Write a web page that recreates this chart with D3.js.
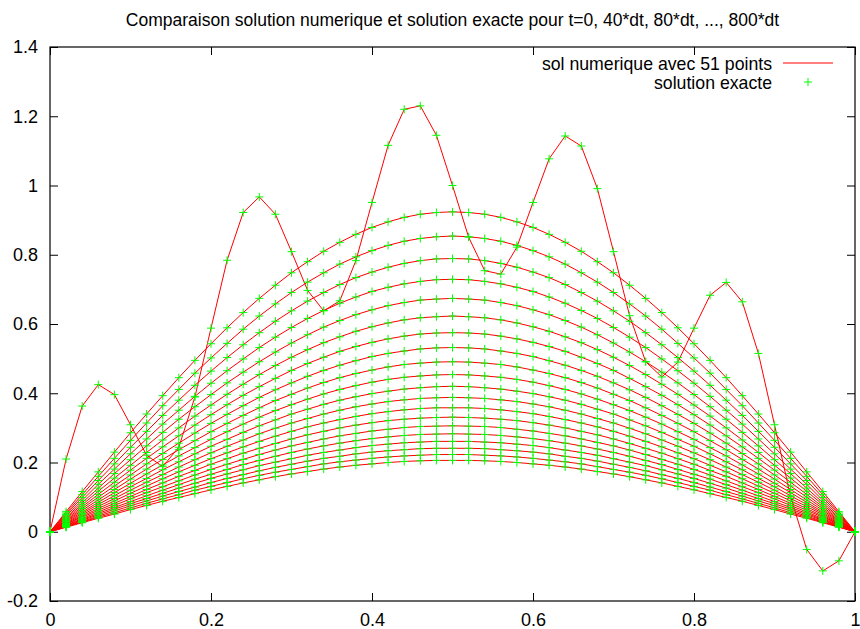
<!DOCTYPE html>
<html>
<head>
<meta charset="utf-8">
<script src="https://cdn.jsdelivr.net/npm/d3@7"></script>
<style>
  body { margin: 0; background: #fff; }
  text { font-family: "Liberation Sans", Arial, Helvetica, sans-serif; fill: #000; }
</style>
</head>
<body>
<svg id="chart" width="860" height="629"></svg>
<script>
// abscisses des 51 points
var xs = [0, 0.02, 0.04, 0.06, 0.08, 0.1, 0.12, 0.14, 0.16, 0.18, 0.2, 0.22, 0.24, 0.26, 0.28, 0.3, 0.32, 0.34, 0.36, 0.38,
          0.4, 0.42, 0.44, 0.46, 0.48, 0.5, 0.52, 0.54, 0.56, 0.58, 0.6, 0.62, 0.64, 0.66, 0.68, 0.7, 0.72, 0.74, 0.76, 0.78,
          0.8, 0.82, 0.84, 0.86, 0.88, 0.9, 0.92, 0.94, 0.96, 0.98, 1];

// one array per time step
var sol0 = [0, 0.210, 0.363, 0.425, 0.396, 0.309, 0.221, 0.188, 0.244, 0.389, 0.588, 0.784, 0.922, 0.967, 0.917, 0.809, 0.697, 0.638, 0.667, 0.783,
            0.951, 1.116, 1.220, 1.230, 1.145, 1.000, 0.851, 0.754, 0.744, 0.822, 0.951, 1.077, 1.143, 1.114, 0.991, 0.809, 0.624, 0.491, 0.447, 0.490,
            0.588, 0.683, 0.720, 0.664, 0.515, 0.309, 0.102, -0.051, -0.113, -0.084, 0];
var sol40 = [0, 0.058, 0.116, 0.173, 0.230, 0.286, 0.340, 0.393, 0.445, 0.495, 0.543, 0.589, 0.633, 0.674, 0.712, 0.748, 0.780, 0.810, 0.836, 0.859, 0.879, 0.895, 0.908, 0.917, 0.922,
             0.924, 0.922, 0.917, 0.908, 0.895, 0.879, 0.859, 0.836, 0.810, 0.780, 0.748, 0.712, 0.674, 0.633, 0.589, 0.543, 0.495, 0.445, 0.393, 0.340, 0.286, 0.230, 0.173, 0.116, 0.058, 0];
var sol80 = [0, 0.054, 0.107, 0.160, 0.212, 0.264, 0.314, 0.364, 0.411, 0.458, 0.502, 0.544, 0.585, 0.623, 0.658, 0.691, 0.721, 0.748, 0.773, 0.794, 0.812, 0.827, 0.839, 0.847, 0.852,
             0.854, 0.852, 0.847, 0.839, 0.827, 0.812, 0.794, 0.773, 0.748, 0.721, 0.691, 0.658, 0.623, 0.585, 0.544, 0.502, 0.458, 0.411, 0.364, 0.314, 0.264, 0.212, 0.160, 0.107, 0.054, 0];
var sol120 = [0, 0.050, 0.099, 0.148, 0.196, 0.244, 0.290, 0.336, 0.380, 0.423, 0.464, 0.503, 0.540, 0.575, 0.608, 0.638, 0.666, 0.691, 0.714, 0.734, 0.750, 0.764, 0.775, 0.783, 0.788,
              0.789, 0.788, 0.783, 0.775, 0.764, 0.750, 0.734, 0.714, 0.691, 0.666, 0.638, 0.608, 0.575, 0.540, 0.503, 0.464, 0.423, 0.380, 0.336, 0.290, 0.244, 0.196, 0.148, 0.099, 0.050, 0];
var sol160 = [0, 0.046, 0.091, 0.137, 0.181, 0.225, 0.268, 0.311, 0.351, 0.391, 0.429, 0.465, 0.499, 0.532, 0.562, 0.590, 0.616, 0.639, 0.660, 0.678, 0.694, 0.706, 0.716, 0.723, 0.728,
              0.729, 0.728, 0.723, 0.716, 0.706, 0.694, 0.678, 0.660, 0.639, 0.616, 0.590, 0.562, 0.532, 0.499, 0.465, 0.429, 0.391, 0.351, 0.311, 0.268, 0.225, 0.181, 0.137, 0.091, 0.046, 0];
var sol200 = [0, 0.042, 0.084, 0.126, 0.168, 0.208, 0.248, 0.287, 0.325, 0.361, 0.396, 0.430, 0.461, 0.491, 0.519, 0.545, 0.569, 0.591, 0.610, 0.627, 0.641, 0.653, 0.662, 0.669, 0.672,
              0.674, 0.672, 0.669, 0.662, 0.653, 0.641, 0.627, 0.610, 0.591, 0.569, 0.545, 0.519, 0.491, 0.461, 0.430, 0.396, 0.361, 0.325, 0.287, 0.248, 0.208, 0.168, 0.126, 0.084, 0.042, 0];
var sol240 = [0, 0.039, 0.078, 0.117, 0.155, 0.192, 0.229, 0.265, 0.300, 0.334, 0.366, 0.397, 0.426, 0.454, 0.480, 0.504, 0.526, 0.546, 0.563, 0.579, 0.592, 0.603, 0.612, 0.618, 0.621,
              0.623, 0.621, 0.618, 0.612, 0.603, 0.592, 0.579, 0.563, 0.546, 0.526, 0.504, 0.480, 0.454, 0.426, 0.397, 0.366, 0.334, 0.300, 0.265, 0.229, 0.192, 0.155, 0.117, 0.078, 0.039, 0];
var sol280 = [0, 0.036, 0.072, 0.108, 0.143, 0.178, 0.212, 0.245, 0.277, 0.308, 0.338, 0.367, 0.394, 0.419, 0.443, 0.466, 0.486, 0.504, 0.521, 0.535, 0.547, 0.557, 0.565, 0.571, 0.574,
              0.575, 0.574, 0.571, 0.565, 0.557, 0.547, 0.535, 0.521, 0.504, 0.486, 0.466, 0.443, 0.419, 0.394, 0.367, 0.338, 0.308, 0.277, 0.245, 0.212, 0.178, 0.143, 0.108, 0.072, 0.036, 0];
var sol320 = [0, 0.033, 0.067, 0.100, 0.132, 0.164, 0.196, 0.226, 0.256, 0.285, 0.313, 0.339, 0.364, 0.388, 0.410, 0.430, 0.449, 0.466, 0.481, 0.494, 0.506, 0.515, 0.522, 0.528, 0.531,
              0.532, 0.531, 0.528, 0.522, 0.515, 0.506, 0.494, 0.481, 0.466, 0.449, 0.430, 0.410, 0.388, 0.364, 0.339, 0.313, 0.285, 0.256, 0.226, 0.196, 0.164, 0.132, 0.100, 0.067, 0.033, 0];
var sol360 = [0, 0.031, 0.062, 0.092, 0.122, 0.152, 0.181, 0.209, 0.237, 0.263, 0.289, 0.313, 0.336, 0.358, 0.379, 0.397, 0.415, 0.431, 0.445, 0.457, 0.467, 0.476, 0.483, 0.487, 0.490,
              0.491, 0.490, 0.487, 0.483, 0.476, 0.467, 0.457, 0.445, 0.431, 0.415, 0.397, 0.379, 0.358, 0.336, 0.313, 0.289, 0.263, 0.237, 0.209, 0.181, 0.152, 0.122, 0.092, 0.062, 0.031, 0];
var sol400 = [0, 0.029, 0.057, 0.085, 0.113, 0.140, 0.167, 0.193, 0.219, 0.243, 0.267, 0.289, 0.311, 0.331, 0.350, 0.367, 0.383, 0.398, 0.411, 0.422, 0.432, 0.440, 0.446, 0.450, 0.453,
              0.454, 0.453, 0.450, 0.446, 0.440, 0.432, 0.422, 0.411, 0.398, 0.383, 0.367, 0.350, 0.331, 0.311, 0.289, 0.267, 0.243, 0.219, 0.193, 0.167, 0.140, 0.113, 0.085, 0.057, 0.029, 0];
var sol440 = [0, 0.026, 0.053, 0.079, 0.104, 0.130, 0.154, 0.179, 0.202, 0.225, 0.247, 0.267, 0.287, 0.306, 0.323, 0.340, 0.354, 0.368, 0.380, 0.390, 0.399, 0.406, 0.412, 0.416, 0.419,
              0.420, 0.419, 0.416, 0.412, 0.406, 0.399, 0.390, 0.380, 0.368, 0.354, 0.340, 0.323, 0.306, 0.287, 0.267, 0.247, 0.225, 0.202, 0.179, 0.154, 0.130, 0.104, 0.079, 0.053, 0.026, 0];
var sol480 = [0, 0.024, 0.049, 0.073, 0.096, 0.120, 0.143, 0.165, 0.187, 0.208, 0.228, 0.247, 0.265, 0.283, 0.299, 0.314, 0.327, 0.340, 0.351, 0.361, 0.369, 0.376, 0.381, 0.385, 0.387,
              0.388, 0.387, 0.385, 0.381, 0.376, 0.369, 0.361, 0.351, 0.340, 0.327, 0.314, 0.299, 0.283, 0.265, 0.247, 0.228, 0.208, 0.187, 0.165, 0.143, 0.120, 0.096, 0.073, 0.049, 0.024, 0];
var sol520 = [0, 0.022, 0.045, 0.067, 0.089, 0.111, 0.132, 0.153, 0.173, 0.192, 0.211, 0.228, 0.245, 0.261, 0.276, 0.290, 0.303, 0.314, 0.324, 0.333, 0.341, 0.347, 0.352, 0.356, 0.358,
              0.358, 0.358, 0.356, 0.352, 0.347, 0.341, 0.333, 0.324, 0.314, 0.303, 0.290, 0.276, 0.261, 0.245, 0.228, 0.211, 0.192, 0.173, 0.153, 0.132, 0.111, 0.089, 0.067, 0.045, 0.022, 0];
var sol560 = [0, 0.021, 0.042, 0.062, 0.082, 0.102, 0.122, 0.141, 0.160, 0.177, 0.195, 0.211, 0.227, 0.241, 0.255, 0.268, 0.280, 0.290, 0.300, 0.308, 0.315, 0.321, 0.325, 0.328, 0.330,
              0.331, 0.330, 0.328, 0.325, 0.321, 0.315, 0.308, 0.300, 0.290, 0.280, 0.268, 0.255, 0.241, 0.227, 0.211, 0.195, 0.177, 0.160, 0.141, 0.122, 0.102, 0.082, 0.062, 0.042, 0.021, 0];
var sol600 = [0, 0.019, 0.038, 0.057, 0.076, 0.095, 0.113, 0.130, 0.147, 0.164, 0.180, 0.195, 0.209, 0.223, 0.236, 0.248, 0.258, 0.268, 0.277, 0.284, 0.291, 0.296, 0.301, 0.304, 0.305,
              0.306, 0.305, 0.304, 0.301, 0.296, 0.291, 0.284, 0.277, 0.268, 0.258, 0.248, 0.236, 0.223, 0.209, 0.195, 0.180, 0.164, 0.147, 0.130, 0.113, 0.095, 0.076, 0.057, 0.038, 0.019, 0];
var sol640 = [0, 0.018, 0.035, 0.053, 0.070, 0.087, 0.104, 0.120, 0.136, 0.152, 0.166, 0.180, 0.194, 0.206, 0.218, 0.229, 0.239, 0.248, 0.256, 0.263, 0.269, 0.274, 0.278, 0.281, 0.282,
              0.283, 0.282, 0.281, 0.278, 0.274, 0.269, 0.263, 0.256, 0.248, 0.239, 0.229, 0.218, 0.206, 0.194, 0.180, 0.166, 0.152, 0.136, 0.120, 0.104, 0.087, 0.070, 0.053, 0.035, 0.018, 0];
var sol680 = [0, 0.016, 0.033, 0.049, 0.065, 0.081, 0.096, 0.111, 0.126, 0.140, 0.154, 0.167, 0.179, 0.191, 0.201, 0.211, 0.221, 0.229, 0.236, 0.243, 0.249, 0.253, 0.257, 0.259, 0.261,
              0.261, 0.261, 0.259, 0.257, 0.253, 0.249, 0.243, 0.236, 0.229, 0.221, 0.211, 0.201, 0.191, 0.179, 0.167, 0.154, 0.140, 0.126, 0.111, 0.096, 0.081, 0.065, 0.049, 0.033, 0.016, 0];
var sol720 = [0, 0.015, 0.030, 0.045, 0.060, 0.075, 0.089, 0.103, 0.116, 0.129, 0.142, 0.154, 0.165, 0.176, 0.186, 0.195, 0.204, 0.212, 0.218, 0.225, 0.230, 0.234, 0.237, 0.240, 0.241,
              0.241, 0.241, 0.240, 0.237, 0.234, 0.230, 0.225, 0.218, 0.212, 0.204, 0.195, 0.186, 0.176, 0.165, 0.154, 0.142, 0.129, 0.116, 0.103, 0.089, 0.075, 0.060, 0.045, 0.030, 0.015, 0];
var sol760 = [0, 0.014, 0.028, 0.042, 0.055, 0.069, 0.082, 0.095, 0.107, 0.120, 0.131, 0.142, 0.153, 0.163, 0.172, 0.180, 0.188, 0.196, 0.202, 0.207, 0.212, 0.216, 0.219, 0.221, 0.223,
              0.223, 0.223, 0.221, 0.219, 0.216, 0.212, 0.207, 0.202, 0.196, 0.188, 0.180, 0.172, 0.163, 0.153, 0.142, 0.131, 0.120, 0.107, 0.095, 0.082, 0.069, 0.055, 0.042, 0.028, 0.014, 0];
var sol800 = [0, 0.013, 0.026, 0.039, 0.051, 0.064, 0.076, 0.088, 0.099, 0.110, 0.121, 0.131, 0.141, 0.150, 0.159, 0.167, 0.174, 0.181, 0.187, 0.192, 0.196, 0.200, 0.203, 0.205, 0.206,
              0.206, 0.206, 0.205, 0.203, 0.200, 0.196, 0.192, 0.187, 0.181, 0.174, 0.167, 0.159, 0.150, 0.141, 0.131, 0.121, 0.110, 0.099, 0.088, 0.076, 0.064, 0.051, 0.039, 0.026, 0.013, 0];

var profiles = [sol0, sol40, sol80, sol120, sol160, sol200, sol240, sol280, sol320, sol360, sol400,
                sol440, sol480, sol520, sol560, sol600, sol640, sol680, sol720, sol760, sol800];

var xTicks = [0, 0.2, 0.4, 0.6, 0.8, 1];
var yTicks = [-0.2, 0, 0.2, 0.4, 0.6, 0.8, 1, 1.2, 1.4];

var titleText = "Comparaison solution numerique et solution exacte pour t=0, 40*dt, 80*dt, ..., 800*dt";
var legendLabels = ["sol numerique avec 51 points", "solution exacte"];

// plot box (don't use "top": it is window.top)
var boxL = 50, boxR = 855, boxT = 47, boxB = 601;
var red = "#ff0000", green = "#00ff00";

var svg = d3.select("#chart");

var x = d3.scaleLinear().domain([0, 1]).range([boxL, boxR]);
var y = d3.scaleLinear().domain([-0.2, 1.4]).range([boxB, boxT]);

// title
svg.append("text")
    .attr("x", (boxL + boxR) / 2)
    .attr("y", 26)
    .attr("text-anchor", "middle")
    .style("font-size", "17.5px")
    .text(titleText);

// axes, ticks pointing inward, mirrored on top / right
function styleAxis(g, showLabels) {
    g.select(".domain").remove();
    g.selectAll(".tick line").attr("stroke", "#000");
    g.selectAll(".tick text").style("font-size", "18px").attr("fill", "#000");
    if (!showLabels) g.selectAll(".tick text").remove();
}

svg.append("g")
    .attr("transform", "translate(0," + boxB + ")")
    .call(d3.axisBottom(x).tickValues(xTicks).tickSize(-8).tickPadding(12).tickFormat(String))
    .call(styleAxis, true);
svg.append("g")
    .attr("transform", "translate(0," + boxT + ")")
    .call(d3.axisTop(x).tickValues(xTicks).tickSize(-8))
    .call(styleAxis, false);
svg.append("g")
    .attr("transform", "translate(" + boxL + ",0)")
    .call(d3.axisLeft(y).tickValues(yTicks).tickSize(-8).tickPadding(12).tickFormat(String))
    .call(styleAxis, true);
svg.append("g")
    .attr("transform", "translate(" + boxR + ",0)")
    .call(d3.axisRight(y).tickValues(yTicks).tickSize(-8))
    .call(styleAxis, false);

// frame
svg.append("rect")
    .attr("x", boxL).attr("y", boxT)
    .attr("width", boxR - boxL).attr("height", boxB - boxT)
    .attr("fill", "none").attr("stroke", "#000").attr("stroke-width", 1.2);

var line = d3.line()
    .x(function(d, i) { return x(xs[i]); })
    .y(function(d) { return y(d); });

var plot = svg.append("g");

// sol numerique (red lines)
plot.selectAll("path.num")
    .data(profiles)
    .enter()
    .append("path")
    .attr("class", "num")
    .attr("d", line)
    .attr("fill", "none")
    .attr("stroke", red)
    .attr("stroke-width", 1);

// solution exacte (green +)
var plus = "M-4,0H4M0,-4V4";
profiles.forEach(function(p) {
    plot.append("g").selectAll("path")
        .data(p)
        .enter()
        .append("path")
        .attr("d", plus)
        .attr("transform", function(d, i) { return "translate(" + x(xs[i]) + "," + y(d) + ")"; })
        .attr("stroke", green)
        .attr("stroke-width", 1)
        .attr("fill", "none");
});

// legend
var legend = svg.append("g");
legend.selectAll("text")
    .data(legendLabels)
    .enter()
    .append("text")
    .attr("x", 772)
    .attr("y", function(d, i) { return 70 + i * 19; })
    .attr("text-anchor", "end")
    .style("font-size", "17.7px")
    .text(function(d) { return d; });
legend.append("line")
    .attr("x1", 783).attr("x2", 833)
    .attr("y1", 63).attr("y2", 63)
    .attr("stroke", red).attr("stroke-width", 1);
legend.append("path")
    .attr("d", plus)
    .attr("transform", "translate(808,82)")
    .attr("stroke", green).attr("stroke-width", 1).attr("fill", "none");
</script>
</body>
</html>
